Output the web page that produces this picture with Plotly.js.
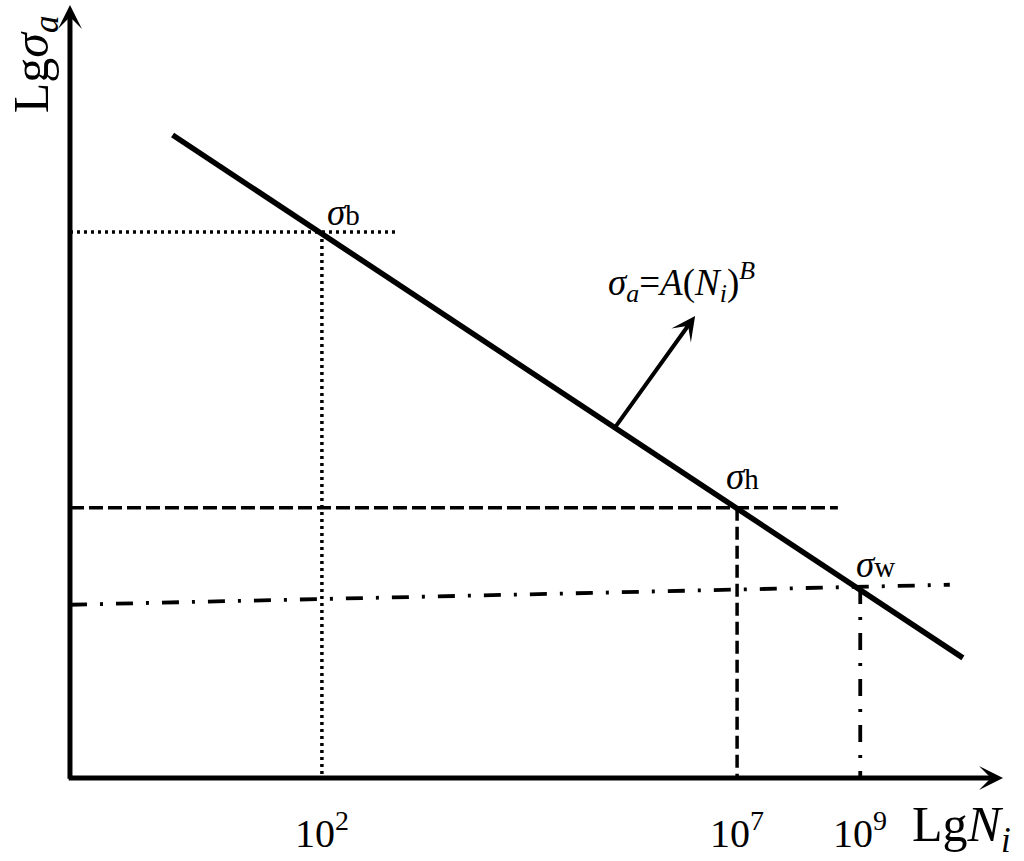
<!DOCTYPE html>
<html><head><meta charset="utf-8">
<script src="https://cdn.plot.ly/plotly-3.0.1.min.js"></script>
<style>html,body{margin:0;padding:0;background:#fff}#chart{width:1024px;height:861px}</style>
</head><body><div id="chart"></div>
<script>
// Schematic S-N curve in abstract log units
const curveX = [1.10, 9.57];
const curveY = [8.35, 1.56];
const pointNames = ['σb', 'σh', 'σw'];
const pointX = [2.70, 7.15, 8.47];
const pointY = [7.09, 3.51, 2.48];
const guideEndX = [3.51, 8.23, 9.43];
const guideStartY = [7.09, 3.51, 2.25];
const guideEndY = [7.09, 3.51, 2.51];
const tickLabels = ['10<sup>2</sup>', '10<sup>7</sup>', '10<sup>9</sup>'];
const arrowTail = [5.84, 4.55];
const arrowTip = [6.70, 6.00];

const serif = 'Liberation Serif, Times New Roman, serif';
const dashes = ['3px,4px', '14px,5px', '17px,13px,3px,13px'];
const vdashes = ['3px,4px', '13px,6px', '17px,13px,3px,13px'];
const widths = [3.5, 3.5, 3.8];

const traces = [];
for (let i = 0; i < 3; i++) {
  traces.push({x: [0, guideEndX[i]], y: [guideStartY[i], guideEndY[i]], mode: 'lines',
    line: {color: '#000', width: widths[i], dash: dashes[i]}, hoverinfo: 'skip'});
  traces.push({x: [pointX[i], pointX[i]], y: [pointY[i], 0], mode: 'lines',
    line: {color: '#000', width: widths[i], dash: vdashes[i]}, hoverinfo: 'skip'});
}
traces.push({x: curveX, y: curveY, mode: 'lines', line: {color: '#000', width: 5.5}, hoverinfo: 'skip'});

const ann = [];
// axes with arrows
ann.push({x: 10.0, y: 0, ax: -0.03, ay: 0, xref: 'x', yref: 'y', axref: 'x', ayref: 'y',
  showarrow: true, arrowhead: 3, arrowsize: 0.8, arrowwidth: 5, arrowcolor: '#000', text: '', standoff: 0});
ann.push({x: 0, y: 10.04, ax: 0, ay: -0.03, xref: 'x', yref: 'y', axref: 'x', ayref: 'y',
  showarrow: true, arrowhead: 3, arrowsize: 0.8, arrowwidth: 5, arrowcolor: '#000', text: '', standoff: 0});
// formula arrow
ann.push({x: arrowTip[0], y: arrowTip[1], ax: arrowTail[0], ay: arrowTail[1], xref: 'x', yref: 'y', axref: 'x', ayref: 'y',
  showarrow: true, arrowhead: 3, arrowsize: 1, arrowwidth: 4, arrowcolor: '#000', text: '', standoff: 0});
// point labels
const labelPos = [[2.93, 7.34], [7.21, 3.91], [8.63, 2.77]];
const subs = ['b', 'h', 'w'];
for (let i = 0; i < 3; i++) {
  ann.push({x: labelPos[i][0], y: labelPos[i][1], xref: 'x', yref: 'y', showarrow: false,
    text: '<i>σ</i><span style="font-size:29px">' + subs[i] + '</span>',
    font: {family: serif, size: 37, color: '#000'}, xanchor: 'center', yanchor: 'middle'});
}
// tick labels
for (let i = 0; i < 3; i++) {
  ann.push({x: pointX[i], y: -0.68, xref: 'x', yref: 'y', showarrow: false, text: tickLabels[i],
    font: {family: serif, size: 40, color: '#000'}, xanchor: 'center', yanchor: 'middle'});
}
// formula
ann.push({x: 6.55, y: 6.44, xref: 'x', yref: 'y', showarrow: false,
  text: '<i>σ<sub>a</sub></i>=<i>A</i>(<i>N<sub>i</sub></i>)<sup><i>B</i></sup>',
  font: {family: serif, size: 37, color: '#000'}, xanchor: 'center', yanchor: 'middle'});
// axis titles
ann.push({x: 9.55, y: -0.65, xref: 'x', yref: 'y', showarrow: false,
  text: 'Lg<i>N<sub>i</sub></i>', font: {family: serif, size: 50, color: '#000'}, xanchor: 'center', yanchor: 'middle'});
ann.push({x: -0.375, y: 9.27, xref: 'x', yref: 'y', showarrow: false, textangle: -90,
  text: 'Lg<i>σ<sub>a</sub></i>', font: {family: serif, size: 50, color: '#000'}, xanchor: 'center', yanchor: 'middle'});

const layout = {
  width: 1024, height: 861,
  margin: {l: 0, r: 0, t: 0, b: 0},
  paper_bgcolor: '#fff', plot_bgcolor: '#fff',
  showlegend: false,
  xaxis: {range: [-0.750, 10.225], visible: false, fixedrange: true},
  yaxis: {range: [-1.078, 10.104], visible: false, fixedrange: true},
  annotations: ann
};
Plotly.newPlot('chart', traces, layout, {staticPlot: true, displayModeBar: false});
</script></body></html>
